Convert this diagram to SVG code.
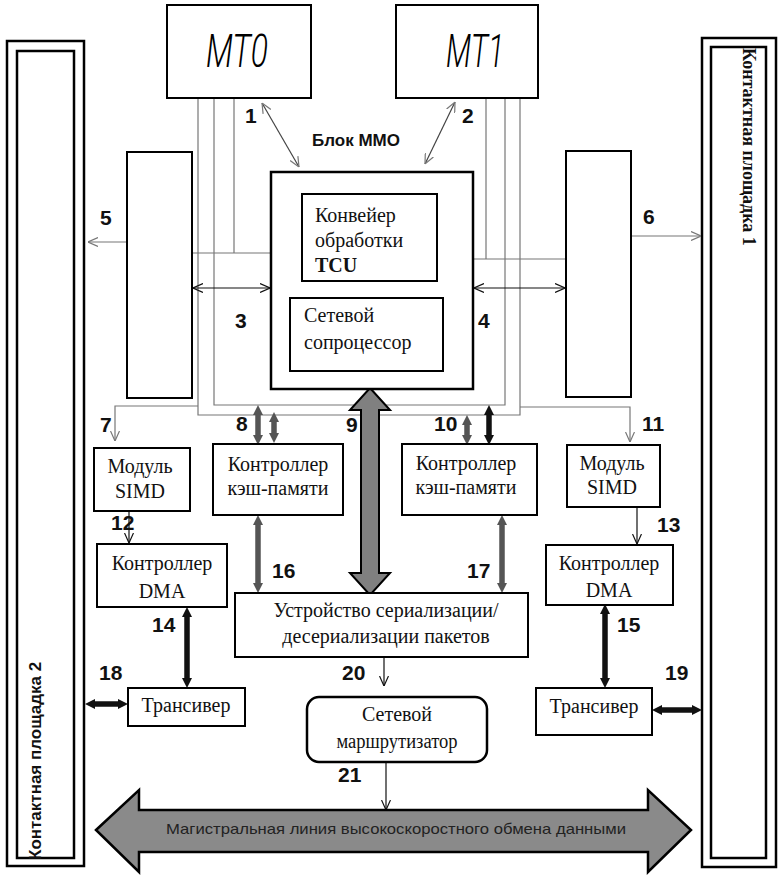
<svg xmlns="http://www.w3.org/2000/svg" width="780" height="885" viewBox="0 0 780 885">
<style>
.box{fill:#fff;stroke:#000;stroke-width:2}
.t{font-family:"Liberation Serif",serif;font-size:20px;fill:#111}
.tm{text-anchor:middle}
.n{font-family:"Liberation Sans",Arial,sans-serif;font-weight:bold;font-size:21px;fill:#111}
.g{stroke:#777;stroke-width:1.2;fill:none}
.k{stroke:#111;stroke-width:1.2;fill:none}
.tg{stroke:#555;stroke-width:5.5;fill:none}
.tk{stroke:#111;stroke-width:5.5;fill:none}
.mt{font-family:Roboto,"Liberation Sans",sans-serif;font-weight:300;font-style:italic;font-size:46px;fill:#000}
</style>
<defs>
<marker id="og" viewBox="0 0 10 10" refX="10" refY="5" markerWidth="10" markerHeight="10" markerUnits="userSpaceOnUse" orient="auto-start-reverse"><path d="M0,0.5 L10,5 L0,9.5" fill="none" stroke="#777" stroke-width="1.2"/></marker>
<marker id="ok" viewBox="0 0 10 10" refX="10" refY="5" markerWidth="10" markerHeight="10" markerUnits="userSpaceOnUse" orient="auto-start-reverse"><path d="M0,0.5 L10,5 L0,9.5" fill="none" stroke="#111" stroke-width="1.2"/></marker>
<marker id="hg" viewBox="0 0 10 10" refX="0" refY="5" markerWidth="10" markerHeight="11" markerUnits="userSpaceOnUse" orient="auto-start-reverse"><path d="M0,0 L10,5 L0,10 Z" fill="#555"/></marker>
<marker id="hk" viewBox="0 0 10 10" refX="0" refY="5" markerWidth="10" markerHeight="11" markerUnits="userSpaceOnUse" orient="auto-start-reverse"><path d="M0,0 L10,5 L0,10 Z" fill="#111"/></marker>
</defs>
<rect width="780" height="885" fill="#fff"/>

<g id="pad2">
<rect x="7" y="41" width="77" height="825" fill="#fff" stroke="#000" stroke-width="2.5"/>
<rect x="17" y="51" width="57" height="807" fill="#fff" stroke="#000" stroke-width="2.5"/>
<text transform="translate(41,860) rotate(-90)" font-family="Liberation Sans,Arial,sans-serif" font-weight="bold" font-size="17" fill="#111">Контактная площадка 2</text>
</g>
<g id="pad1">
<rect x="702" y="38" width="74" height="829" fill="#fff" stroke="#000" stroke-width="2.5"/>
<rect x="711" y="47" width="55" height="811" fill="#fff" stroke="#000" stroke-width="2.5"/>
<text transform="translate(743,48) rotate(90)" font-family="Liberation Serif,serif" font-weight="bold" font-size="18" fill="#111">Контактная площадка 1</text>
</g>

<g id="connectors">
<path class="g" d="M234,98 V253 M192,253 H271"/>
<path class="g" d="M486,98 V259 M462,259 H566"/>
<path class="g" d="M214,98 V405 H505 V98"/>
<path class="g" d="M198,98 V415 H520 V98"/>
<path class="g" d="M198,406 H115 V441" marker-end="url(#og)"/>
<path class="g" d="M520,407 H630 V442" marker-end="url(#og)"/>
<line class="g" x1="127" y1="242" x2="88" y2="242" marker-end="url(#og)"/>
<line class="g" x1="631" y1="236" x2="701" y2="236" marker-end="url(#og)"/>
<line x1="262" y1="103" x2="299" y2="167" stroke="#444" stroke-width="1.2" marker-start="url(#og)" marker-end="url(#og)"/>
<line x1="455" y1="102" x2="425" y2="164" stroke="#444" stroke-width="1.2" marker-start="url(#og)" marker-end="url(#og)"/>
<line class="k" x1="193" y1="288" x2="270" y2="288" marker-start="url(#ok)" marker-end="url(#ok)"/>
<line class="k" x1="474" y1="288" x2="565" y2="288" marker-start="url(#ok)" marker-end="url(#ok)"/>
<line class="k" x1="129" y1="511" x2="129" y2="543" marker-end="url(#ok)"/>
<line class="k" x1="637" y1="507" x2="637" y2="544" marker-end="url(#ok)"/>
<line class="k" x1="384" y1="657" x2="384" y2="686" marker-end="url(#ok)"/>
<line class="k" x1="386" y1="762" x2="386" y2="810" marker-end="url(#ok)"/>
<line class="tg" x1="258" y1="415" x2="258" y2="435" marker-start="url(#hg)" marker-end="url(#hg)"/>
<line class="tg" x1="274" y1="422" x2="274" y2="433" marker-start="url(#hg)" marker-end="url(#hg)"/>
<line class="tg" x1="467" y1="425" x2="467" y2="435" marker-start="url(#hg)" marker-end="url(#hg)"/>
<line class="tk" x1="489" y1="415" x2="489" y2="435" marker-start="url(#hk)" marker-end="url(#hk)"/>
<line class="tg" x1="258" y1="525" x2="258" y2="583" marker-start="url(#hg)" marker-end="url(#hg)"/>
<line class="tg" x1="502" y1="525" x2="502" y2="583" marker-start="url(#hg)" marker-end="url(#hg)"/>
<line class="tk" x1="187" y1="617" x2="187" y2="678" marker-start="url(#hk)" marker-end="url(#hk)"/>
<line class="tk" x1="605" y1="614" x2="605" y2="678" marker-start="url(#hk)" marker-end="url(#hk)"/>
<line class="tk" x1="95" y1="704" x2="118" y2="704" marker-start="url(#hk)" marker-end="url(#hk)"/>
<line class="tk" x1="662" y1="710" x2="692" y2="710" marker-start="url(#hk)" marker-end="url(#hk)"/>
<polygon points="370,388 390,410 379,410 379,573 390,573 370,595 350,573 361,573 361,410 350,410" fill="#808080" stroke="#000" stroke-width="2"/>
</g>

<g id="mt0">
<rect class="box" x="167" y="5" width="144" height="93"/>
<text class="mt tm" x="237" y="67" textLength="62" lengthAdjust="spacingAndGlyphs">MT0</text>
</g>
<g id="mt1">
<rect class="box" x="396" y="5" width="142" height="93"/>
<text class="mt tm" x="475" y="67" textLength="58" lengthAdjust="spacingAndGlyphs">MT1</text>
</g>

<g id="mmo">
<rect x="271" y="172" width="202" height="217" fill="#fff" stroke="#000" stroke-width="2.5"/>
<text x="312" y="146" font-family="Liberation Sans,Arial,sans-serif" font-weight="bold" font-size="17" fill="#111">Блок ММО</text>
</g>
<g id="tcu">
<rect class="box" x="302" y="194" width="135" height="87"/>
<text class="t" x="315" y="222">Конвейер</text>
<text class="t" x="315" y="247">обработки</text>
<text class="t" x="315" y="272" font-weight="bold">TCU</text>
</g>
<g id="coproc">
<rect class="box" x="290" y="298" width="153" height="73"/>
<text class="t" x="304" y="322">Сетевой</text>
<text class="t" x="304" y="349">сопроцессор</text>
</g>

<g id="blk5"><rect class="box" x="127" y="152" width="65" height="246"/></g>
<g id="blk6"><rect class="box" x="566" y="151" width="65" height="246"/></g>

<g id="simd1">
<rect class="box" x="94" y="448" width="96" height="63"/>
<text class="t tm" x="140" y="473">Модуль</text>
<text class="t tm" x="140" y="498">SIMD</text>
</g>
<g id="cache1">
<rect class="box" x="213" y="444" width="130" height="71"/>
<text class="t tm" x="278" y="471">Контроллер</text>
<text class="t tm" x="278" y="495">кэш-памяти</text>
</g>
<g id="cache2">
<rect class="box" x="402" y="444" width="135" height="71"/>
<text class="t tm" x="466" y="470">Контроллер</text>
<text class="t tm" x="466" y="494">кэш-памяти</text>
</g>
<g id="simd2">
<rect class="box" x="567" y="445" width="93" height="62"/>
<text class="t tm" x="612" y="470">Модуль</text>
<text class="t tm" x="612" y="494">SIMD</text>
</g>
<g id="dma1">
<rect class="box" x="97" y="544" width="130" height="63"/>
<text class="t tm" x="162" y="570">Контроллер</text>
<text class="t tm" x="162" y="598">DMA</text>
</g>
<g id="dma2">
<rect class="box" x="546" y="545" width="127" height="60"/>
<text class="t tm" x="609" y="570">Контроллер</text>
<text class="t tm" x="609" y="597">DMA</text>
</g>
<g id="serdes">
<rect class="box" x="235" y="593" width="293" height="64"/>
<text class="t tm" x="386" y="617" font-size="20.5">Устройство сериализации/</text>
<text class="t tm" x="386" y="643" font-size="20.5">десериализации пакетов</text>
</g>
<g id="trx1">
<rect class="box" x="128" y="688" width="117" height="38"/>
<text class="t tm" x="186" y="712">Трансивер</text>
</g>
<g id="trx2">
<rect class="box" x="536" y="688" width="116" height="47"/>
<text class="t tm" x="594" y="713">Трансивер</text>
</g>
<g id="router">
<rect x="307" y="697" width="180" height="65" rx="12" fill="#fff" stroke="#000" stroke-width="2.5"/>
<text class="t tm" x="397" y="721" font-size="18.5">Сетевой</text>
<text class="t tm" x="397" y="748" font-size="18" textLength="121" lengthAdjust="spacingAndGlyphs">маршрутизатор</text>
</g>
<g id="bus">
<polygon points="96,830 139,790 139,810 648,810 648,790 691,830 648,872 648,852 139,852 139,872" fill="#8a8a8a" stroke="#000" stroke-width="2.5"/>
<text x="396" y="834" text-anchor="middle" font-family="Liberation Sans,Arial,sans-serif" font-size="15" fill="#222" textLength="460" lengthAdjust="spacingAndGlyphs">Магистральная линия высокоскоростного обмена данными</text>
</g>

<g id="labels">
<text class="n" x="245" y="123">1</text>
<text class="n" x="462" y="123">2</text>
<text class="n" x="235" y="328">3</text>
<text class="n" x="478" y="328">4</text>
<text class="n" x="100" y="225">5</text>
<text class="n" x="643" y="224">6</text>
<text class="n" x="100" y="432">7</text>
<text class="n" x="236" y="431">8</text>
<text class="n" x="346" y="432">9</text>
<text class="n" x="434" y="431">10</text>
<text class="n" x="642" y="431">11</text>
<text class="n" x="111" y="530">12</text>
<text class="n" x="657" y="532">13</text>
<text class="n" x="152" y="632">14</text>
<text class="n" x="617" y="632">15</text>
<text class="n" x="272" y="578">16</text>
<text class="n" x="467" y="578">17</text>
<text class="n" x="99" y="680">18</text>
<text class="n" x="665" y="680">19</text>
<text class="n" x="342" y="680">20</text>
<text class="n" x="338" y="782">21</text>
</g>
</svg>
